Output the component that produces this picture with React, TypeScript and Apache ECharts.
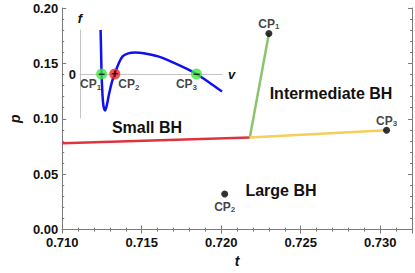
import React, { useEffect, useRef } from "react";
import * as echarts from "echarts";

// Main phase diagram data (t, p)
const redLine: [number, number][] = [[0.71, 0.078], [0.7218, 0.0832]];
const greenLine: [number, number][] = [[0.7218, 0.0832], [0.723, 0.177]];
const yellowLine: [number, number][] = [[0.7218, 0.0832], [0.7304, 0.0896]];
const cpNames = ["1", "2", "3"];
const cpPoints: [number, number][] = [[0.723, 0.177], [0.72022, 0.0321], [0.7304, 0.0896]];
const xTicks = { min: 0.71, max: 0.732, interval: 0.005 };
const yTicks = { min: 0, max: 0.2, interval: 0.05 };

// Inset curve f(v) (arbitrary units)
const insetV = [0.145, 0.148, 0.152, 0.158, 0.165, 0.176, 0.188, 0.205, 0.225, 0.245, 0.27, 0.3, 0.34, 0.39, 0.45, 0.55, 0.65, 0.75, 0.82, 0.9, 1.0];
const insetF = [1.0, 0.6, 0.0, -0.45, -0.72, -0.83, -0.72, -0.45, -0.18, 0.0, 0.22, 0.4, 0.47, 0.49, 0.47, 0.4, 0.27, 0.12, 0.0, -0.17, -0.4];
const insetCpV = [0.152, 0.245, 0.82];
const insetCpSign = ["−", "+", "−"];
const insetCpColor = ["#3ee83e", "#f02828", "#3ee83e"];

const FONT = "'Liberation Sans', Arial, sans-serif";
const AXIS = "#7a7a7a";

const rich = {
  c: { fontSize: 12, fontWeight: "bold", fontFamily: FONT, color: "#111" },
  s: { fontSize: 8, fontWeight: "bold", fontFamily: FONT, color: "#111", padding: [6, 0, 0, 0] },
};

export default function App() {
  const ref = useRef<HTMLDivElement>(null);
  useEffect(() => {
    document.body.style.margin = "0";
    const chart = echarts.init(ref.current!, null, { renderer: "svg" });
    const isMajorX = (v: number) => Math.abs(v / xTicks.interval - Math.round(v / xTicks.interval)) < 1e-6;
    const frameAxis = {
      axisLine: { show: true, lineStyle: { color: AXIS, width: 1 } },
      axisTick: { show: true, inside: true, length: 4, lineStyle: { color: AXIS } },
      minorTick: { show: true, splitNumber: 5, length: 2, lineStyle: { color: AXIS } },
      splitLine: { show: false },
    };
    const lineSeries = (data: [number, number][], color: string) => ({
      type: "line",
      xAxisIndex: 0,
      yAxisIndex: 0,
      data,
      symbol: "none",
      lineStyle: { color, width: 2.5 },
      z: 3,
    });
    const labelPos = ["top", "bottom", "top"];
    const labelDist = [-1, 2, -1];
    chart.setOption({
      animation: false,
      textStyle: { fontFamily: FONT },
      grid: [
        { left: 48, top: 8, right: 2, bottom: 39 },
        { left: 80, top: 30, width: 142, height: 88 },
      ],
      xAxis: [
        {
          type: "value", gridIndex: 0, ...xTicks, position: "bottom", ...frameAxis,
          axisLabel: {
            color: "#111", fontSize: 13, fontWeight: "bold", fontFamily: FONT, margin: 7, lineHeight: 12,
            formatter: (v: number) => (isMajorX(v) ? v.toFixed(3) : ""),
          },
          name: "t", nameLocation: "middle", nameGap: 24,
          nameTextStyle: { fontSize: 14, fontWeight: "bold", fontStyle: "italic", color: "#111", fontFamily: FONT },
        },
        {
          type: "value", gridIndex: 0, ...xTicks, position: "top", ...frameAxis,
          axisLabel: { show: false },
        },
        {
          type: "value", gridIndex: 1, min: 0, max: 1, position: "bottom",
          axisLine: { show: true, onZero: true, lineStyle: { color: "#c4c4c4", width: 1 } },
          axisTick: { show: false }, axisLabel: { show: false }, splitLine: { show: false },
          name: "v", nameLocation: "end", nameGap: 6,
          nameTextStyle: { fontSize: 13, fontWeight: "bold", fontStyle: "italic", color: "#111", fontFamily: FONT, verticalAlign: "middle" },
        },
      ],
      yAxis: [
        {
          type: "value", gridIndex: 0, ...yTicks, position: "left", ...frameAxis,
          axisLabel: {
            color: "#111", fontSize: 13, fontWeight: "bold", fontFamily: FONT, margin: 4, lineHeight: 11,
            formatter: (v: number) => v.toFixed(2),
          },
          name: "p", nameLocation: "middle", nameGap: 38, nameRotate: 90,
          nameTextStyle: { fontSize: 14, fontWeight: "bold", fontStyle: "italic", color: "#111", fontFamily: FONT },
        },
        {
          type: "value", gridIndex: 0, ...yTicks, position: "right", ...frameAxis,
          axisLabel: { show: false },
        },
        {
          type: "value", gridIndex: 1, min: -1, max: 1, interval: 1, position: "left",
          axisLine: { show: true, onZero: false, lineStyle: { color: "#c4c4c4", width: 1 } },
          axisTick: { show: false }, splitLine: { show: false },
          axisLabel: {
            color: "#111", fontSize: 13, fontWeight: "bold", fontFamily: FONT, margin: 4,
            formatter: (v: number) => (v === 0 ? "0" : ""),
          },
          name: "f", nameLocation: "end", nameGap: 5,
          nameTextStyle: { fontSize: 13, fontWeight: "bold", fontStyle: "italic", color: "#111", fontFamily: FONT, align: "center" },
        },
      ],
      series: [
        lineSeries(redLine, "#de3440"),
        lineSeries(greenLine, "#8cc46e"),
        lineSeries(yellowLine, "#f4cf5c"),
        {
          type: "scatter", xAxisIndex: 0, yAxisIndex: 0, symbolSize: 7, z: 5,
          itemStyle: { color: "#000" },
          data: cpPoints.map((p, i) => ({
            value: p,
            label: {
              show: true, position: labelPos[i], distance: labelDist[i],
              formatter: `{c|CP}{s|${cpNames[i]}}`, rich,
            },
          })),
        },
        {
          type: "line", xAxisIndex: 2, yAxisIndex: 2, smooth: 0.35, symbol: "none",
          data: insetV.map((v, i) => [v, insetF[i]]),
          lineStyle: { color: "#1010f0", width: 2.5 }, z: 4,
        },
        {
          type: "scatter", xAxisIndex: 2, yAxisIndex: 2, symbolSize: 11, z: 6,
          data: insetCpV.map((v, i) => ({
            value: [v, 0],
            itemStyle: { color: insetCpColor[i] },
            label: {
              show: true, position: "inside", formatter: insetCpSign[i],
              fontSize: 12, fontWeight: "bold", color: "#000", fontFamily: FONT,
            },
          })),
        },
        {
          type: "scatter", xAxisIndex: 2, yAxisIndex: 2, symbolSize: 0, z: 6,
          data: insetCpV.map((v, i) => ({
            value: [v, 0],
            label: {
              show: true, position: "inside",
              offset: [[-11, 10], [14, 10], [-10, 10]][i],
              formatter: `{c|CP}{s|${cpNames[i]}}`, rich,
            },
          })),
        },
      ],
      graphic: [
        { type: "text", x: 147, y: 127, style: { text: "Small BH", fontSize: 16, fontWeight: "bold", fontFamily: FONT, fill: "#111", align: "center", verticalAlign: "middle" } },
        { type: "text", x: 331, y: 93, style: { text: "Intermediate BH", fontSize: 16, fontWeight: "bold", fontFamily: FONT, fill: "#111", align: "center", verticalAlign: "middle" } },
        { type: "text", x: 281, y: 190, style: { text: "Large BH", fontSize: 16, fontWeight: "bold", fontFamily: FONT, fill: "#111", align: "center", verticalAlign: "middle" } },
      ],
    });
    return () => chart.dispose();
  }, []);
  return <div ref={ref} style={{ width: 415, height: 273 }} />;
}
